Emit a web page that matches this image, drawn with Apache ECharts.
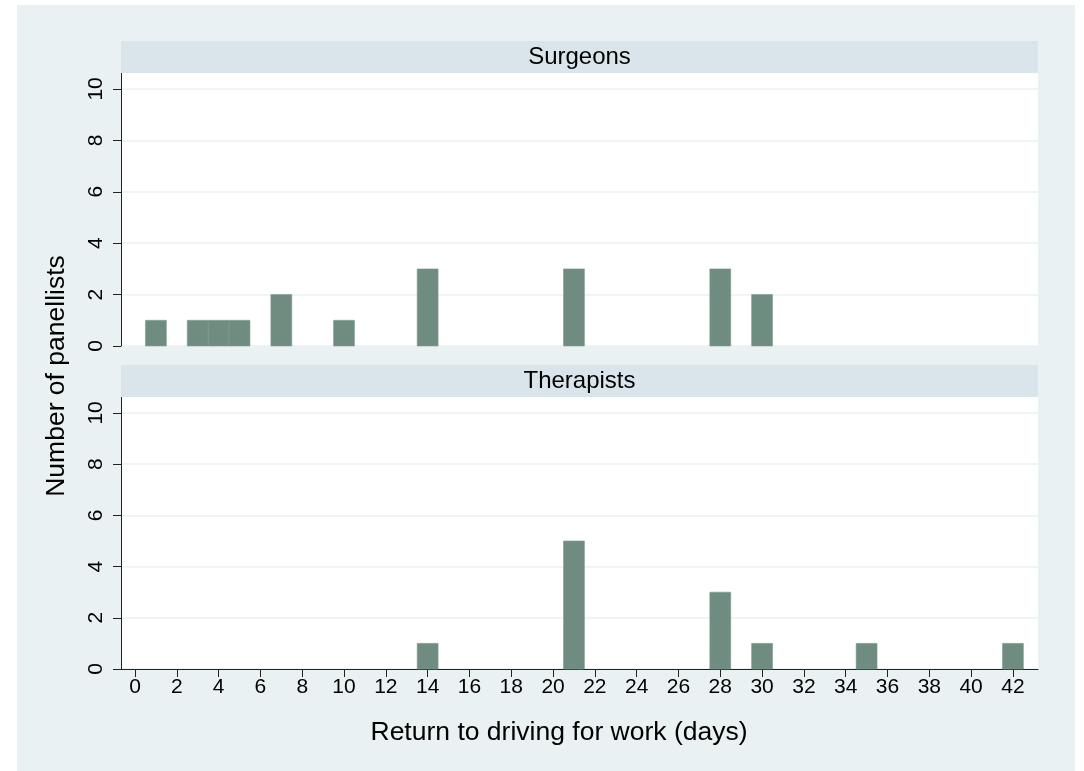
<!DOCTYPE html>
<html>
<head>
<meta charset="utf-8">
<script src="https://cdn.jsdelivr.net/npm/echarts@6/dist/echarts.min.js"></script>
<style>
html,body{margin:0;padding:0;background:#ffffff;}
#chart{width:1084px;height:771px;}
</style>
</head>
<body>
<div id="chart"></div>
<script>
// ---- data ----
const surgeonDays = [1, 3, 4, 5, 7, 10, 14, 21, 28, 30];
const surgeonCounts = [1, 1, 1, 1, 2, 1, 3, 3, 3, 2];
const therapistDays = [14, 21, 28, 30, 35, 42];
const therapistCounts = [1, 5, 3, 1, 1, 1];
const xTicks = [0,2,4,6,8,10,12,14,16,18,20,22,24,26,28,30,32,34,36,38,40,42];
const yTicks = [0,2,4,6,8,10];
const panelTitles = ['Surgeons', 'Therapists'];
const xTitle = 'Return to driving for work (days)';
const yTitle = 'Number of panellists';

const barColor = '#6E8D80';
const fontFam = '"Liberation Sans", Arial, Helvetica, sans-serif';

function renderBar(params, api) {
  const x = api.value(0), y = api.value(1);
  const p1 = api.coord([x - 0.5, y]);
  const p2 = api.coord([x + 0.5, 0]);
  return {
    type: 'rect',
    shape: {x: p1[0], y: p1[1], width: p2[0] - p1[0], height: p2[1] - p1[1]},
    style: {fill: barColor, stroke: '#7F9B90', lineWidth: 0.6}
  };
}

const grids = [
  {left: 121, top: 73, width: 917, height: 273},
  {left: 121, top: 397, width: 917, height: 272}
];

function makeX(i, showLabels) {
  return {
    type: 'value', gridIndex: i, min: -0.67, max: 43.2,
    axisLine: {show: showLabels, onZero: false, lineStyle: {color: '#222', width: 1}},
    axisTick: {show: showLabels, customValues: xTicks, length: 8, lineStyle: {color: '#222'}},
    axisLabel: {show: showLabels, customValues: xTicks, color: '#000', fontSize: 21, fontFamily: fontFam, margin: 8},
    splitLine: {show: false}
  };
}
function makeY(i) {
  return {
    type: 'value', gridIndex: i, min: 0, max: 10.62,
    axisLine: {show: true, onZero: false, lineStyle: {color: '#222', width: 1}},
    axisTick: {show: true, customValues: yTicks, length: 8, lineStyle: {color: '#222'}},
    axisLabel: {customValues: yTicks, rotate: 90, color: '#000', fontSize: 21, fontFamily: fontFam, margin: 14},
    splitLine: {show: true, lineStyle: {color: '#EAF1F3', width: 1.5}}
  };
}

const chart = echarts.init(document.getElementById('chart'), null, {renderer: 'canvas'});
chart.setOption({
  animation: false,
  backgroundColor: '#ffffff',
  grid: grids.map(g => Object.assign({show: true, backgroundColor: '#ffffff', borderWidth: 0}, g)),
  xAxis: [makeX(0, false), makeX(1, true)],
  yAxis: [makeY(0), makeY(1)],
  series: [
    {type: 'custom', xAxisIndex: 0, yAxisIndex: 0, renderItem: renderBar,
     data: surgeonDays.map((d, i) => [d, surgeonCounts[i]])},
    {type: 'custom', xAxisIndex: 1, yAxisIndex: 1, renderItem: renderBar,
     data: therapistDays.map((d, i) => [d, therapistCounts[i]])}
  ],
  graphic: [
    {type: 'rect', z: -100, silent: true, shape: {x: 17, y: 5, width: 1058, height: 766}, style: {fill: '#E9F1F3'}},
    {type: 'rect', z: 100, shape: {x: 121, y: 41, width: 917, height: 32}, style: {fill: '#D9E5EB'}},
    {type: 'rect', z: 100, shape: {x: 121, y: 365, width: 917, height: 32}, style: {fill: '#D9E5EB'}},
    {type: 'text', z: 101, x: 579.5, y: 57, style: {text: panelTitles[0], fill: '#000', font: '24px ' + fontFam, textAlign: 'center', textVerticalAlign: 'middle'}},
    {type: 'text', z: 101, x: 579.5, y: 381, style: {text: panelTitles[1], fill: '#000', font: '24px ' + fontFam, textAlign: 'center', textVerticalAlign: 'middle'}},
    {type: 'text', z: 101, x: 559, y: 733, style: {text: xTitle, fill: '#000', font: '26.5px ' + fontFam, textAlign: 'center', textVerticalAlign: 'middle'}},
    {type: 'text', z: 101, x: 57, y: 376, rotation: Math.PI / 2, style: {text: yTitle, fill: '#000', font: '26.5px ' + fontFam, textAlign: 'center', textVerticalAlign: 'middle'}}
  ]
});
</script>
</body>
</html>
